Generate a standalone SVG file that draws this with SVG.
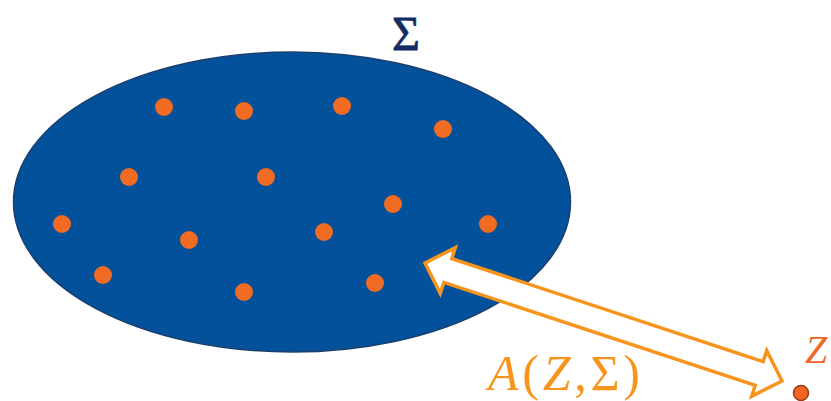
<svg xmlns="http://www.w3.org/2000/svg" width="831" height="401" viewBox="0 0 831 401">
  <style>
    .dot { fill: #F26B22; }
    .math { font-family: "Liberation Serif", "DejaVu Serif", serif; }
    .it { font-style: italic; }
  </style>
  <rect width="831" height="401" fill="#FFFFFF"/>
  <g id="set-sigma">
    <ellipse cx="292" cy="202" rx="278.5" ry="150" fill="#02519A" stroke="#1A3F6E" stroke-width="1.5"/>
    <circle class="dot" cx="164" cy="107" r="9"/>
    <circle class="dot" cx="244" cy="111" r="9"/>
    <circle class="dot" cx="342" cy="106" r="9"/>
    <circle class="dot" cx="443" cy="129" r="9"/>
    <circle class="dot" cx="129" cy="177" r="9"/>
    <circle class="dot" cx="266" cy="177" r="9"/>
    <circle class="dot" cx="393" cy="204" r="9"/>
    <circle class="dot" cx="62" cy="224" r="9"/>
    <circle class="dot" cx="189" cy="240" r="9"/>
    <circle class="dot" cx="324" cy="232" r="9"/>
    <circle class="dot" cx="488" cy="224" r="9"/>
    <circle class="dot" cx="103" cy="275" r="9"/>
    <circle class="dot" cx="244" cy="292" r="9"/>
    <circle class="dot" cx="375" cy="283" r="9"/>
  </g>
  <g id="label-sigma">
    <text class="math" x="406" y="50" font-size="48" fill="#132D63" stroke="#132D63" stroke-width="0.8" text-anchor="middle">Σ</text>
  </g>
  <g id="point-z">
    <circle cx="801" cy="393" r="7.5" fill="#F26522" stroke="#9A3B16" stroke-width="1.5"/>
    <text class="math it" x="805" y="363" font-size="40" fill="#EE6A2A">Z</text>
  </g>
  <g id="connectors">
    <polygon transform="translate(425,263) rotate(18.29)" points="0,0 24,-24 24,-12.5 352,-12.5 352,-24 376,0 352,24 352,12.5 24,12.5 24,24" fill="#FFFFFF" stroke="#F7941D" stroke-width="3.5" stroke-linejoin="miter"/>
  </g>
  <g id="label-distance">
    <text class="math" x="488" y="390" font-size="50" fill="#F7941D" textLength="152" lengthAdjust="spacing"><tspan class="it">A</tspan>(<tspan class="it">Z</tspan>,Σ)</text>
  </g>
</svg>
